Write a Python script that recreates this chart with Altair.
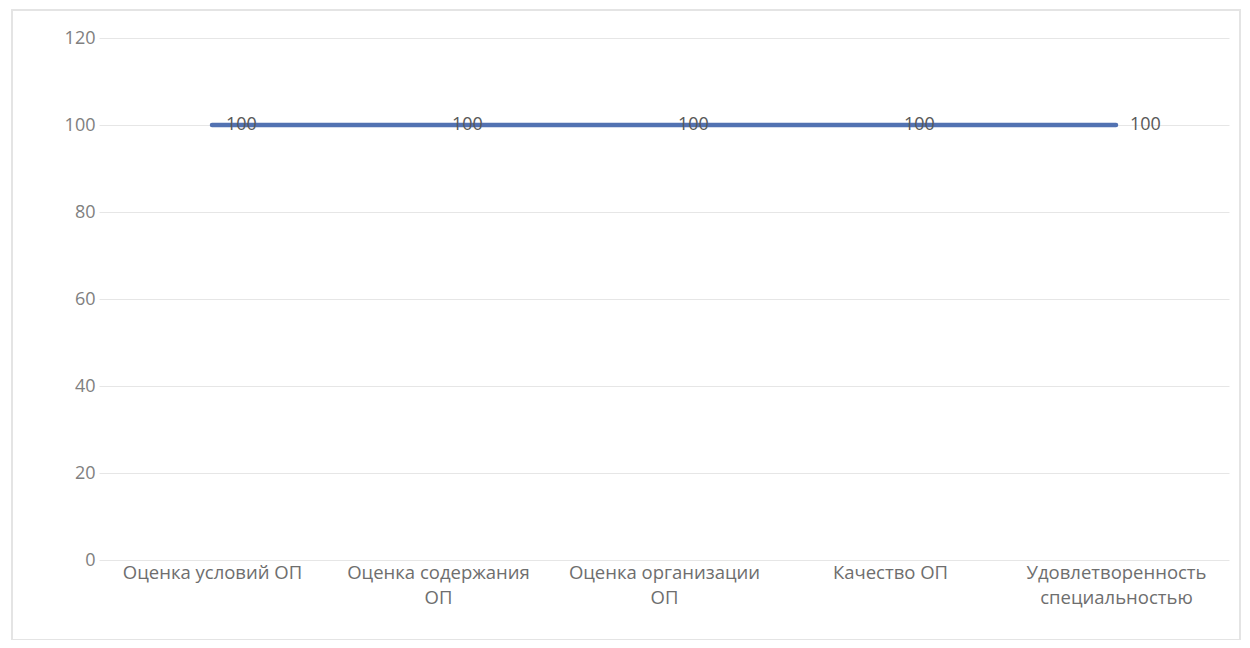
import altair as alt
import pandas as pd

categories = [
    "Оценка условий ОП",
    "Оценка содержания\nОП",
    "Оценка организации\nОП",
    "Качество ОП",
    "Удовлетворенность\nспециальностью",
]
values = [100, 100, 100, 100, 100]
y_ticks = [0, 20, 40, 60, 80, 100, 120]

df = pd.DataFrame({"cat": categories, "val": values})

W, H = 1130, 522
FONT = "Open Sans"

x_enc = alt.X(
    "cat:N",
    sort=categories,
    scale=alt.Scale(paddingInner=0, paddingOuter=0),
    axis=alt.Axis(
        title=None,
        labelAngle=0,
        labelExpr="split(datum.label, '\\n')",
        labelFont=FONT,
        labelFontSize=18.5,
        labelColor="#6e6e6e",
        labelLineHeight=25,
        labelPadding=3,
        labelLimit=400,
        ticks=False,
        domain=False,
        grid=False,
        labelBaseline="top",
    ),
)
y_enc = alt.Y(
    "val:Q",
    scale=alt.Scale(domain=[0, 120], nice=False),
    axis=alt.Axis(
        title=None,
        values=y_ticks,
        labelFont=FONT,
        labelFontSize=18,
        labelColor="#808080",
        labelPadding=4,
        ticks=False,
        domain=False,
        grid=True,
        gridColor="#e6e6e6",
        gridWidth=1,
    ),
)

frame = alt.Chart(df).mark_rect(fill=None, stroke="#e4e4e4", strokeWidth=1.5).encode(
    x=alt.value(-87), x2=alt.value(1141), y=alt.value(-28), y2=alt.value(602)
)

line = alt.Chart(df).mark_line(color="#5272b2", strokeWidth=4.5, strokeCap="round").encode(
    x=x_enc, y=y_enc
)

labels = alt.Chart(df).mark_text(
    align="left", baseline="middle", dx=14, font=FONT, fontSize=18, color="#585858"
).encode(
    x=x_enc,
    y=y_enc,
    text="val:Q",
)

chart = (
    alt.layer(frame, line, labels)
    .properties(
        width=W,
        height=H,
        autosize=alt.AutoSizeParams(type="none"),
        padding={"left": 91, "top": 30, "right": 13, "bottom": 80},
        view=alt.ViewBackground(stroke=None, strokeWidth=0),
    )
    .configure_view(stroke="transparent", strokeWidth=0)
    .configure(background="#ffffff")
)

chart.save("out.html", embed_options={"renderer": "svg", "actions": False})
